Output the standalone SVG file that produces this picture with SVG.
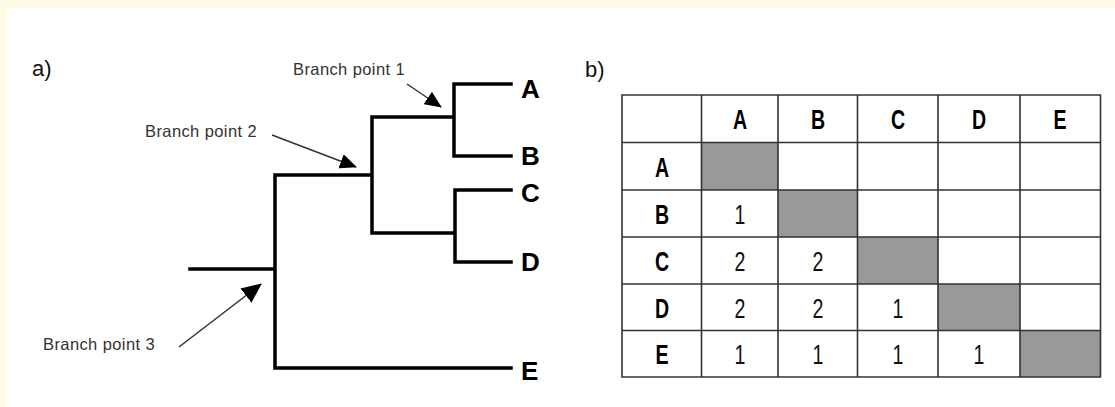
<svg xmlns="http://www.w3.org/2000/svg" width="1115" height="407" viewBox="0 0 1115 407">
<style>
.bg{fill:#fffbe6}
.tree{fill:none;stroke:#000;stroke-width:3.5;stroke-linecap:square;stroke-linejoin:miter}
.arr{fill:none;stroke:#333;stroke-width:1.5}
.bp{font-family:"Liberation Sans",Arial,sans-serif;font-size:16.5px;fill:#333;letter-spacing:0.4px}
.leaf{font-family:"Liberation Sans",Arial,sans-serif;font-size:26px;font-weight:bold;fill:#000}
.pl{font-family:"Liberation Sans",Arial,sans-serif;font-size:22px;fill:#111}
.grid{fill:none;stroke:#333;stroke-width:1.6}
.gray{fill:#999}
.th{font-family:"Liberation Sans",Arial,sans-serif;font-size:28px;font-weight:bold;fill:#000;text-anchor:middle}
.td{font-family:"Liberation Sans",Arial,sans-serif;font-size:28px;fill:#111;text-anchor:middle}
</style>
<defs>
<marker id="ah" markerUnits="userSpaceOnUse" markerWidth="17" markerHeight="15" refX="16" refY="7.5" orient="auto"><path d="M0,0 L17,7.5 L0,15 z" fill="#000"/></marker>
<marker id="ahL" markerUnits="userSpaceOnUse" markerWidth="20" markerHeight="18" refX="19" refY="9" orient="auto"><path d="M0,0 L20,9 L0,18 z" fill="#000"/></marker>
</defs>
<rect x="0" y="0" width="1115" height="407" class="bg"/>
<rect x="7" y="8" width="1108" height="399" fill="#fff"/>
<text class="pl" x="32" y="76">a)</text>
<text class="pl" x="585" y="77">b)</text>
<g id="tree">
<path class="tree" d="M190,269 H275 M275,175 V368 H511 M275,175 H372 M372,117 V233 H455 M372,117 H454 M454,84 V156 H511 M454,84 H511 M455,190 V262 H511 M455,190 H511"/>
</g>
<g id="leaf-A"><text class="leaf" x="521" y="98">A</text></g>
<g id="leaf-B"><text class="leaf" x="521" y="165">B</text></g>
<g id="leaf-C"><text class="leaf" x="521" y="202">C</text></g>
<g id="leaf-D"><text class="leaf" x="521" y="271">D</text></g>
<g id="leaf-E"><text class="leaf" x="521" y="380">E</text></g>
<g id="bp1"><text class="bp" x="293" y="75">Branch point 1</text></g>
<g id="bp2"><text class="bp" x="145" y="137">Branch point 2</text></g>
<g id="bp3"><text class="bp" x="43" y="350">Branch point 3</text></g>
<g id="connectors">
<line class="arr" x1="407" y1="84" x2="441" y2="107" marker-end="url(#ah)"/>
<line class="arr" x1="272" y1="135" x2="356" y2="167" marker-end="url(#ah)"/>
<line class="arr" x1="179" y1="347" x2="261" y2="284" marker-end="url(#ahL)"/>
</g>
<g id="table">
<rect class="gray" x="701.5" y="142.5" width="76.5" height="47.5"/>
<rect class="gray" x="778" y="190" width="79.5" height="47"/>
<rect class="gray" x="857.5" y="237" width="80.5" height="47"/>
<rect class="gray" x="938" y="284" width="82" height="46.5"/>
<rect class="gray" x="1020" y="330.5" width="80.5" height="46.5"/>
<path class="grid" d="M622,95 H1100.5 V377 H622 Z M622,142.5 H1100.5 M622,190 H1100.5 M622,237 H1100.5 M622,284 H1100.5 M622,330.5 H1100.5 M701.5,95 V377 M778,95 V377 M857.5,95 V377 M938,95 V377 M1020,95 V377"/>
<g class="th">
<text transform="translate(740,129) scale(0.7,1)">A</text>
<text transform="translate(818,129) scale(0.7,1)">B</text>
<text transform="translate(898,129) scale(0.7,1)">C</text>
<text transform="translate(979,129) scale(0.7,1)">D</text>
<text transform="translate(1060,129) scale(0.7,1)">E</text>
<text transform="translate(662,177) scale(0.7,1)">A</text>
<text transform="translate(662,224) scale(0.7,1)">B</text>
<text transform="translate(662,271) scale(0.7,1)">C</text>
<text transform="translate(662,318) scale(0.7,1)">D</text>
<text transform="translate(662,364) scale(0.7,1)">E</text>
</g>
<g class="td">
<text transform="translate(740,224) scale(0.7,1)">1</text>
<text transform="translate(740,271) scale(0.7,1)">2</text>
<text transform="translate(818,271) scale(0.7,1)">2</text>
<text transform="translate(740,318) scale(0.7,1)">2</text>
<text transform="translate(818,318) scale(0.7,1)">2</text>
<text transform="translate(898,318) scale(0.7,1)">1</text>
<text transform="translate(740,364) scale(0.7,1)">1</text>
<text transform="translate(818,364) scale(0.7,1)">1</text>
<text transform="translate(898,364) scale(0.7,1)">1</text>
<text transform="translate(979,364) scale(0.7,1)">1</text>
</g>
</g>
</svg>
